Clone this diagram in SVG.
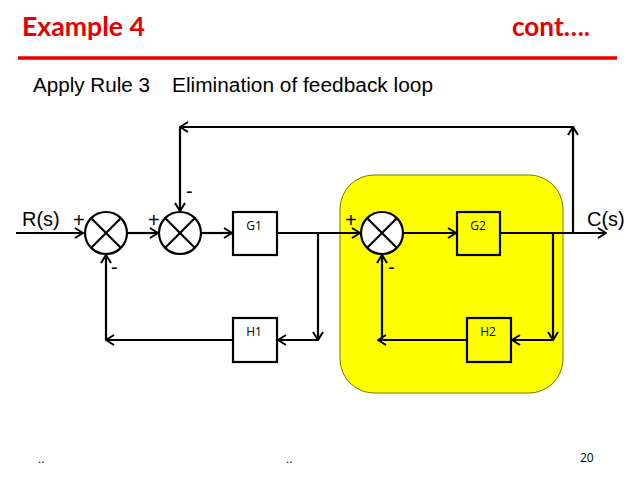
<svg xmlns="http://www.w3.org/2000/svg" width="638" height="478" viewBox="0 0 638 478">
<defs>
<marker id="arr" viewBox="0 0 12 12" refX="11" refY="6" markerWidth="12" markerHeight="12" markerUnits="userSpaceOnUse" orient="auto">
<path d="M3,1 L11,6 L3,11" fill="none" stroke="#000" stroke-width="2"/>
</marker>
</defs>
<style>
.t{font-family:"Liberation Sans",Arial,sans-serif;fill:#000}
.h{font-family:Lato,"Liberation Sans",sans-serif;font-weight:bold;fill:#e60000;font-size:26px}
.ln{fill:none;stroke:#000;stroke-width:2.2}
.box{fill:#fff;stroke:#000;stroke-width:2.2}
.sum{fill:#fff;stroke:#000;stroke-width:2.2}
.lbl{font-family:"Open Sans","Liberation Sans",sans-serif;font-size:12px;fill:#000}
.sg{font-family:"Liberation Sans",Arial,sans-serif;font-size:20px;fill:#000}
</style>
<rect width="638" height="478" fill="#fff"/>
<text class="h" x="22" y="36" textLength="123" lengthAdjust="spacingAndGlyphs">Example 4</text>
<text class="h" x="512" y="36" textLength="78" lengthAdjust="spacingAndGlyphs">cont….</text>
<line x1="18" y1="58" x2="617" y2="58" stroke="#e60000" stroke-width="3.5"/>
<text class="t" x="33" y="92" font-size="20" textLength="117" lengthAdjust="spacingAndGlyphs">Apply Rule 3</text>
<text class="t" x="172" y="92" font-size="20" textLength="261" lengthAdjust="spacingAndGlyphs">Elimination of feedback loop</text>

<rect id="highlight" x="340" y="175" width="223" height="218" rx="34" fill="#ffff00" stroke="#7a7a00" stroke-width="1"/>

<g id="connectors" class="ln">
<line x1="16" y1="233" x2="83" y2="233" marker-end="url(#arr)"/>
<line x1="126" y1="233" x2="158" y2="233" marker-end="url(#arr)"/>
<line x1="202" y1="233" x2="232" y2="233" marker-end="url(#arr)"/>
<line x1="277" y1="233" x2="360" y2="233" marker-end="url(#arr)"/>
<line x1="404" y1="233" x2="456" y2="233" marker-end="url(#arr)"/>
<line x1="500" y1="233" x2="606" y2="233" marker-end="url(#arr)"/>
<line x1="573" y1="233" x2="573" y2="127" marker-end="url(#arr)"/>
<line x1="573" y1="127" x2="180" y2="127" marker-end="url(#arr)"/>
<line x1="180" y1="127" x2="180" y2="211" marker-end="url(#arr)"/>
<line x1="318" y1="233" x2="318" y2="340" marker-end="url(#arr)"/>
<line x1="318" y1="340" x2="278" y2="340" marker-end="url(#arr)"/>
<line x1="233" y1="340" x2="106" y2="340" marker-end="url(#arr)"/>
<line x1="106" y1="340" x2="106" y2="255" marker-end="url(#arr)"/>
<line x1="553" y1="233" x2="553" y2="340" marker-end="url(#arr)"/>
<line x1="553" y1="340" x2="512" y2="340" marker-end="url(#arr)"/>
<line x1="467" y1="340" x2="378" y2="340" marker-end="url(#arr)"/>
<line x1="382" y1="340" x2="382" y2="255" marker-end="url(#arr)"/>
</g>

<g id="sum1">
<circle class="sum" cx="106" cy="233" r="21"/>
<path class="ln" d="M91,218 L121,248 M121,218 L91,248"/>
</g>
<g id="sum2">
<circle class="sum" cx="180" cy="233" r="21"/>
<path class="ln" d="M165,218 L195,248 M195,218 L165,248"/>
</g>
<g id="sum3">
<circle class="sum" cx="382" cy="233" r="21"/>
<path class="ln" d="M367,218 L397,248 M397,218 L367,248"/>
</g>
<g id="G1">
<rect class="box" x="233" y="212" width="44" height="43"/>
<text class="lbl" x="254" y="230" text-anchor="middle">G1</text>
</g>
<g id="G2">
<rect class="box" x="457" y="212" width="43" height="43" style="fill:#ffff00"/>
<text class="lbl" x="478" y="230" text-anchor="middle">G2</text>
</g>
<g id="H1">
<rect class="box" x="233" y="318" width="44" height="44"/>
<text class="lbl" x="254" y="336" text-anchor="middle">H1</text>
</g>
<g id="H2">
<rect class="box" x="467" y="318" width="44" height="44" style="fill:#ffff00"/>
<text class="lbl" x="488" y="336" text-anchor="middle">H2</text>
</g>

<g id="labels">
<text class="sg" x="22" y="226">R(s)</text>
<text class="sg" x="587" y="226">C(s)</text>
<text class="sg" x="73" y="227">+</text>
<text class="sg" x="148" y="227">+</text>
<text class="sg" x="345" y="227">+</text>
<text class="sg" x="111" y="274">-</text>
<text class="sg" x="186" y="198">-</text>
<text class="sg" x="388" y="274">-</text>
</g>

<text class="t" x="38" y="463" font-size="12">..</text>
<text class="t" x="286" y="463" font-size="12">..</text>
<text class="lbl" x="580" y="462" font-size="13">20</text>
</svg>
